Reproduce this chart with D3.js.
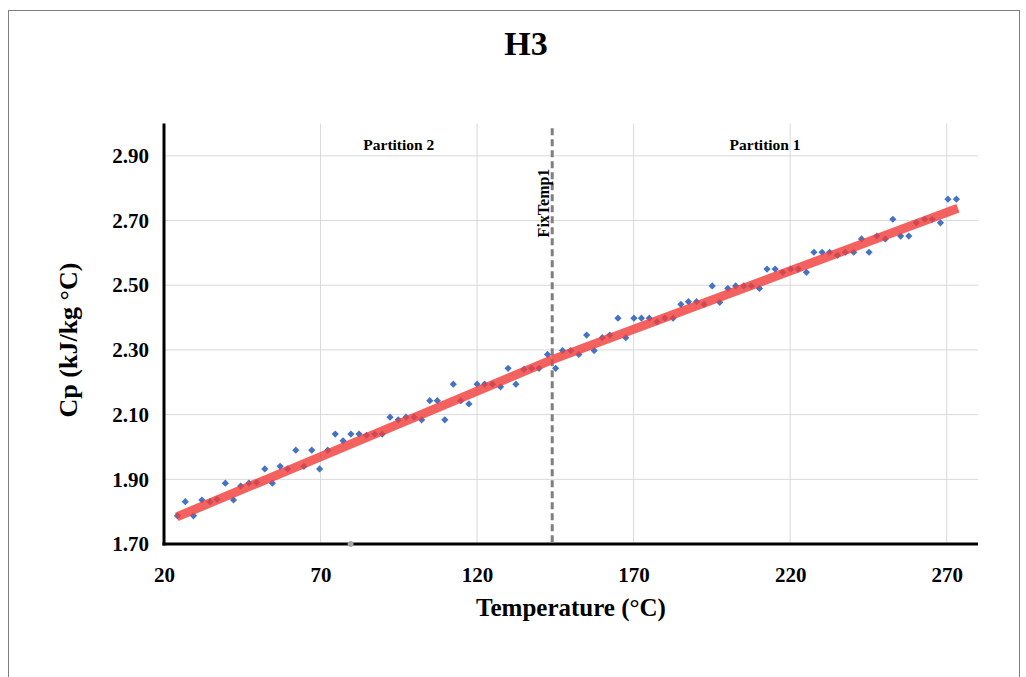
<!DOCTYPE html>
<html><head><meta charset="utf-8">
<script src="https://cdn.jsdelivr.net/npm/d3@7"></script>
<style>body{margin:0;background:#fff}svg{display:block}text{font-family:"Liberation Serif","Times New Roman",serif;font-weight:bold;fill:#000}</style>
</head><body><svg id="c" width="1026" height="677"></svg>
<script>
const title = "H3";
const xTicks = [20, 70, 120, 170, 220, 270];
const yTicks = [1.70, 1.90, 2.10, 2.30, 2.50, 2.70, 2.90];
const temperature = [24.3,26.8,29.4,32.1,34.7,36.9,39.6,42.2,44.5,47.1,49.6,52.2,54.6,57.1,59.5,62.1,64.7,67.2,69.7,72.3,74.7,77.2,79.7,82.3,84.7,87.3,89.7,92.2,94.8,97.3,99.9,102.3,104.9,107.3,109.7,112.4,114.8,117.4,120.0,122.4,124.9,127.5,129.9,132.4,135.0,137.4,139.8,142.5,145.1,
 147.3,149.9,152.5,155.0,157.4,160.0,162.4,165.0,167.5,170.1,172.5,175.0,177.5,180.0,182.6,185.1,187.5,190.1,192.5,195.1,197.5,200.1,202.6,205.2,207.6,210.2,212.6,215.2,217.6,220.2,222.6,225.2,227.6,230.2,232.6,235.1,237.6,240.3,242.8,245.2,247.7,250.4,252.8,255.3,257.9,260.3,263.0,265.4,268.0,270.4,273.1];
const cp = [1.787,1.831,1.787,1.836,1.831,1.838,1.888,1.836,1.879,1.888,1.890,1.932,1.888,1.940,1.932,1.990,1.940,1.990,1.932,1.990,2.040,2.019,2.040,2.040,2.036,2.040,2.040,2.092,2.084,2.092,2.092,2.084,2.143,2.143,2.084,2.194,2.143,2.133,2.194,2.194,2.194,2.186,2.243,2.194,2.240,2.243,2.243,2.286,2.243,
 2.298,2.298,2.286,2.346,2.298,2.338,2.346,2.398,2.338,2.398,2.398,2.398,2.387,2.398,2.398,2.441,2.449,2.449,2.441,2.498,2.447,2.490,2.498,2.498,2.498,2.490,2.550,2.550,2.540,2.550,2.550,2.540,2.602,2.602,2.602,2.593,2.602,2.602,2.643,2.602,2.652,2.643,2.704,2.652,2.652,2.693,2.704,2.704,2.693,2.766,2.766];
const fixTemp = 144;
const trendPartition2 = [[24.1, 1.784], [144, 2.270]];
const trendPartition1 = [[144, 2.270], [273.6, 2.738]];
const partitionLabels = [{text: "Partition 2", x: 95}, {text: "Partition 1", x: 212}];
const strayMarker = [[79.6, 1.70]];

const svg = d3.select("#c");
// frame
svg.append("rect").attr("x", 8.5).attr("y", 10.5).attr("width", 1011).attr("height", 700)
  .attr("fill", "none").attr("stroke", "#7f7f7f").attr("stroke-width", 1);

const x = d3.scaleLinear().domain([20, 280]).range([164, 978]);
const y = d3.scaleLinear().domain([1.7, 3.0]).range([544, 123.5]);

// grid
svg.append("g").selectAll("line").data(yTicks.slice(1)).join("line")
  .attr("x1", x(20)).attr("x2", x(280)).attr("y1", d => y(d)).attr("y2", d => y(d))
  .attr("stroke", "#d9d9d9").attr("stroke-width", 1);
svg.append("g").selectAll("line").data(xTicks.slice(1)).join("line")
  .attr("x1", d => x(d)).attr("x2", d => x(d)).attr("y1", y(1.7)).attr("y2", y(3.0))
  .attr("stroke", "#d9d9d9").attr("stroke-width", 1);

// axes
const xAxis = d3.axisBottom(x).tickValues(xTicks).tickSize(0).tickPadding(23).tickFormat(d3.format("d"));
const gx = svg.append("g").attr("transform", `translate(0,${y(1.7)})`).call(xAxis);
gx.select(".domain").attr("stroke", "#000").attr("stroke-width", 3).attr("d", `M${x(20)-1.5},0H${x(280)}`);
gx.selectAll("text").attr("font-size", 21).attr("font-family", "Liberation Serif").attr("font-weight", "bold").attr("fill", "#000");

const yAxis = d3.axisLeft(y).tickValues(yTicks).tickSize(0).tickPadding(15).tickFormat(d3.format(".2f"));
const gy = svg.append("g").attr("transform", `translate(${x(20)},0)`).call(yAxis);
gy.select(".domain").attr("stroke", "#000").attr("stroke-width", 3).attr("d", `M0,${y(3.0)}V${y(1.7)+1.5}`);
gy.selectAll("text").attr("font-size", 21).attr("font-family", "Liberation Serif").attr("font-weight", "bold").attr("fill", "#000");

// fix temp dashed line
svg.append("line").attr("x1", x(fixTemp)).attr("x2", x(fixTemp)).attr("y1", y(2.985)).attr("y2", y(1.7))
  .attr("stroke", "#7f7f7f").attr("stroke-width", 3).attr("stroke-dasharray", "7,4");

// points
const pts = temperature.map((t, i) => [t, cp[i]]);
svg.append("g").selectAll("path").data(pts).join("path")
  .attr("d", d3.symbol().type(d3.symbolSquare).size(26))
  .attr("transform", d => `translate(${x(d[0])},${y(d[1])}) rotate(45)`)
  .attr("fill", "#4472c4");

svg.append("g").selectAll("circle").data(strayMarker).join("circle")
  .attr("cx", d => x(d[0])).attr("cy", d => y(d[1])).attr("r", 3).attr("fill", "#a6a6a6");

// trend lines
const line = d3.line().x(d => x(d[0])).y(d => y(d[1]));
[trendPartition2, trendPartition1].forEach(seg => {
  svg.append("path").attr("d", line(seg)).attr("stroke", "#f0403c").attr("stroke-opacity", 0.82)
    .attr("stroke-width", 9).attr("fill", "none").attr("stroke-linecap", "butt");
});

// labels
svg.append("text").attr("x", x(fixTemp) - 9).attr("y", 203).attr("text-anchor", "middle")
  .attr("transform", `rotate(-90,${x(fixTemp) - 9},203)`).attr("dy", "0.35em")
  .attr("font-size", 16).text("FixTemp1");
svg.selectAll(".pl").data(partitionLabels).join("text").attr("class", "pl")
  .attr("x", d => x(d.x)).attr("y", 150).attr("text-anchor", "middle").attr("font-size", 15.5).text(d => d.text);

svg.append("text").attr("x", 526).attr("y", 55).attr("text-anchor", "middle").attr("font-size", 34).text(title);
svg.append("text").attr("x", 571).attr("y", 616).attr("text-anchor", "middle").attr("font-size", 25).text("Temperature (°C)");
svg.append("text").attr("transform", "translate(77,340) rotate(-90)").attr("text-anchor", "middle").attr("font-size", 26).text("Cp (kJ/kg °C)");
</script></body></html>
